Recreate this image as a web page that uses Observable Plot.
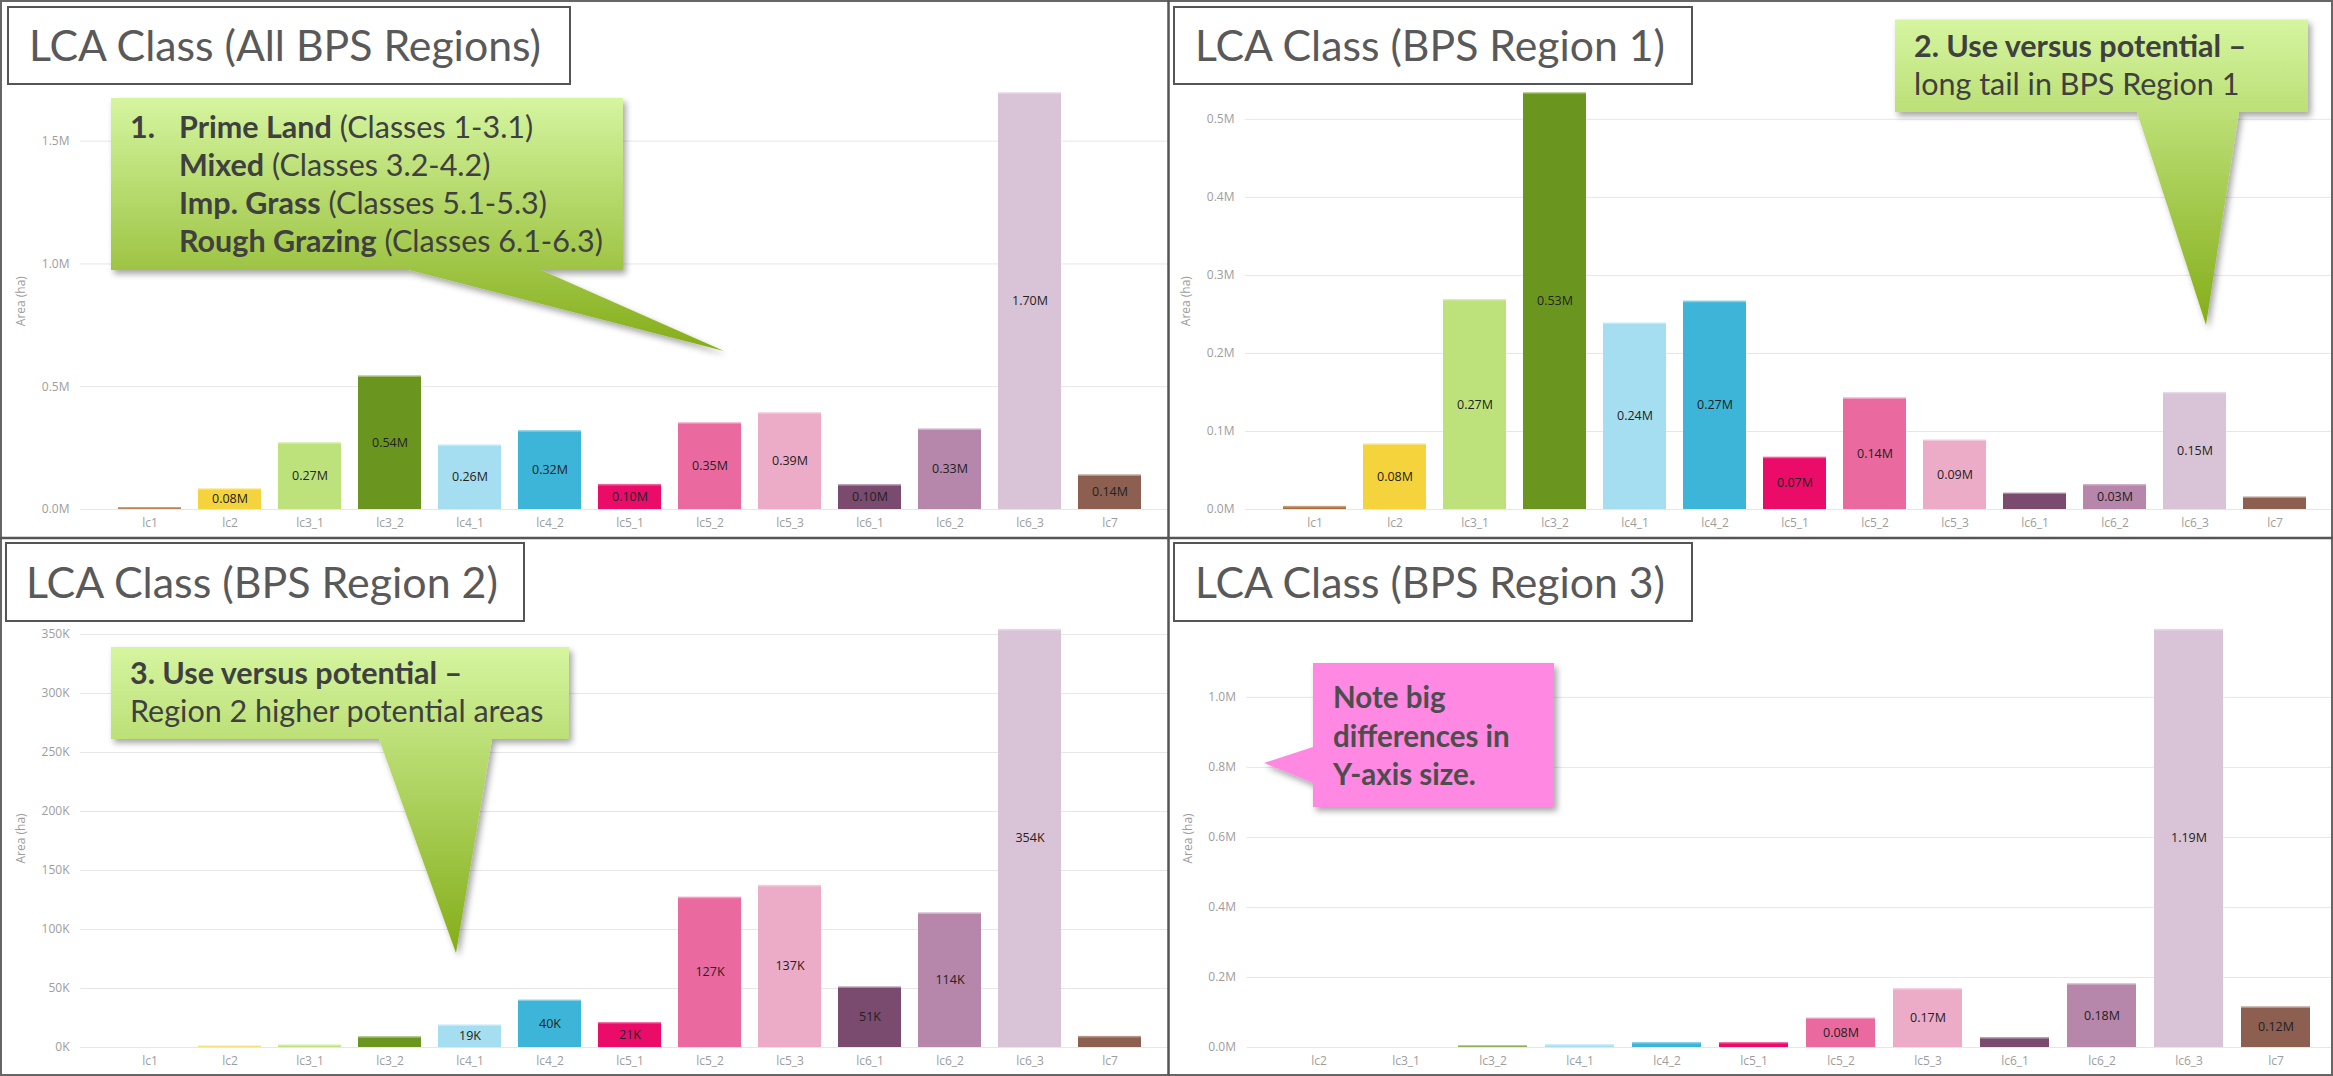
<!DOCTYPE html>
<html>
<head>
<meta charset="utf-8">
<script src="https://cdn.jsdelivr.net/npm/d3@7"></script>
<script src="https://cdn.jsdelivr.net/npm/@observablehq/plot@0.6"></script>
<style>
  html, body { margin: 0; padding: 0; background: #fff; }
  #root { position: relative; width: 2333px; height: 1076px; overflow: hidden; background: #fff; }
  .panel { position: absolute; }
  #overlay { position: absolute; left: 0; top: 0; }
</style>
</head>
<body>
<div id="root"></div>
<script>
// ---------- data ----------
const lcaClasses = ["lc1","lc2","lc3_1","lc3_2","lc4_1","lc4_2","lc5_1","lc5_2","lc5_3","lc6_1","lc6_2","lc6_3","lc7"];
const classColors = ["#a86a36","#f5d33c","#bee27b","#6a961f","#a5def0","#3cb5d9","#eb0c6a","#ea6aa0","#ecabc7","#7a4a6f","#b686ab","#d9c3d6","#8c5f50"];

const classesAllRegions = ["lc1","lc2","lc3_1","lc3_2","lc4_1","lc4_2","lc5_1","lc5_2","lc5_3","lc6_1","lc6_2","lc6_3","lc7"];
const areaAllRegions = [8000, 84000, 272000, 544000, 263000, 321000, 102000, 353000, 394000, 101000, 328000, 1697000, 141000];

const classesRegion1 = ["lc1","lc2","lc3_1","lc3_2","lc4_1","lc4_2","lc5_1","lc5_2","lc5_3","lc6_1","lc6_2","lc6_3","lc7"];
const areaRegion1 = [4000, 84000, 269000, 534000, 239000, 267000, 67000, 143000, 89000, 21000, 32000, 150000, 16000];

const classesRegion2 = ["lc1","lc2","lc3_1","lc3_2","lc4_1","lc4_2","lc5_1","lc5_2","lc5_3","lc6_1","lc6_2","lc6_3","lc7"];
const areaRegion2 = [0, 1200, 2100, 9100, 19100, 40200, 21100, 127400, 137400, 51300, 114100, 354400, 9400];

const classesRegion3 = ["lc2","lc3_1","lc3_2","lc4_1","lc4_2","lc5_1","lc5_2","lc5_3","lc6_1","lc6_2","lc6_3","lc7"];
const areaRegion3 = [0, 0, 5000, 8000, 14000, 14000, 84000, 168000, 28000, 182000, 1194000, 116000];

const ticksAllRegions = [0, 500000, 1000000, 1500000];
const tickLabelsAllRegions = ["0.0M","0.5M","1.0M","1.5M"];
const ticksRegion1 = [0, 100000, 200000, 300000, 400000, 500000];
const tickLabelsRegion1 = ["0.0M","0.1M","0.2M","0.3M","0.4M","0.5M"];
const ticksRegion2 = [0, 50000, 100000, 150000, 200000, 250000, 300000, 350000];
const tickLabelsRegion2 = ["0K","50K","100K","150K","200K","250K","300K","350K"];
const ticksRegion3 = [0, 200000, 400000, 600000, 800000, 1000000];
const tickLabelsRegion3 = ["0.0M","0.2M","0.4M","0.6M","0.8M","1.0M"];

const titles = ["LCA Class (All BPS Regions)", "LCA Class (BPS Region 1)", "LCA Class (BPS Region 2)", "LCA Class (BPS Region 3)"];
const axisTitle = "Area (ha)";

const fmtM = v => (v / 1e6).toFixed(2) + "M";
const fmtK = v => Math.round(v / 1000) + "K";

// ---------- panels ----------
const panels = [
  {classes: classesAllRegions, areas: areaAllRegions, ticks: ticksAllRegions, tickLabels: tickLabelsAllRegions, format: fmtM,
   left: 0, top: 0, width: 1168, height: 538, marginTop: 92.3, marginBottom: 29, marginLeft: 80, insetLeft: 24.6, insetRight: 12.6},
  {classes: classesRegion1, areas: areaRegion1, ticks: ticksRegion1, tickLabels: tickLabelsRegion1, format: fmtM,
   left: 1165, top: 0, width: 1168, height: 538, marginTop: 92.3, marginBottom: 29, marginLeft: 80, insetLeft: 24.6, insetRight: 12.6},
  {classes: classesRegion2, areas: areaRegion2, ticks: ticksRegion2, tickLabels: tickLabelsRegion2, format: fmtK,
   left: 0, top: 538, width: 1168, height: 538, marginTop: 90.9, marginBottom: 29, marginLeft: 80, insetLeft: 24.6, insetRight: 12.6},
  {classes: classesRegion3, areas: areaRegion3, ticks: ticksRegion3, tickLabels: tickLabelsRegion3, format: fmtM,
   left: 1165, top: 538, width: 1168, height: 538, marginTop: 90.9, marginBottom: 29, marginLeft: 81.5, insetLeft: 27.7, insetRight: 14.4}
];

const root = document.getElementById("root");

function drawPanel(p) {
  const data = p.classes.map((c, i) => ({cls: c, area: p.areas[i]}));
  const maxArea = d3.max(p.areas);
  const plotH = p.height - p.marginTop - p.marginBottom;
  const labelled = data.filter(d => d.area / maxArea * plotH >= 18);
  const chart = Plot.plot({
    width: p.width,
    height: p.height,
    marginTop: p.marginTop,
    marginBottom: p.marginBottom,
    marginLeft: p.marginLeft,
    marginRight: 0,
    style: {fontFamily: "'Open Sans', sans-serif", fontSize: "12px", color: "#9d9d9d", background: "transparent", overflow: "visible"},
    x: {domain: p.classes, paddingInner: 0.21, paddingOuter: 0.105, insetLeft: p.insetLeft, insetRight: p.insetRight, label: null},
    y: {domain: [0, maxArea], nice: false, label: null},
    color: {domain: lcaClasses, range: classColors},
    marks: [
      Plot.gridY(p.ticks, {stroke: "#e6e6e6", strokeOpacity: 1, strokeWidth: 1}),
      Plot.barY(data, {x: "cls", y: "area", fill: "cls"}),
      Plot.tickY(data.filter(d => d.area > 0), {x: "cls", y: "area", stroke: "#ffffff", strokeOpacity: 0.35, strokeWidth: 2}),
      Plot.text(labelled, {x: "cls", y: d => d.area / 2, text: d => p.format(d.area), fill: "#222222", fontSize: 12.5}),
      Plot.axisY(p.ticks, {tickSize: 0, tickPadding: 11, tickFormat: d => p.tickLabels[p.ticks.indexOf(d)],
        label: axisTitle, labelAnchor: "center", labelOffset: 64, labelArrow: "none"}),
      Plot.axisX({tickSize: 0, tickPadding: 9, label: null})
    ]
  });
  const div = document.createElement("div");
  div.className = "panel";
  div.style.left = p.left + "px";
  div.style.top = p.top + "px";
  div.appendChild(chart);
  root.appendChild(div);
}
panels.forEach(drawPanel);

// ---------- overlay: frames, titles, callouts ----------
const svg = d3.select(root).append("svg")
  .attr("id", "overlay").attr("width", 2333).attr("height", 1076);

const defs = svg.append("defs");
const grad = defs.append("linearGradient").attr("id", "greenGrad")
  .attr("x1", 0).attr("y1", 0).attr("x2", 0).attr("y2", 1);
grad.append("stop").attr("offset", "0%").attr("stop-color", "#d5f5a0");
grad.append("stop").attr("offset", "100%").attr("stop-color", "#84ad18");
const shadow = defs.append("filter").attr("id", "shadow")
  .attr("x", "-10%").attr("y", "-10%").attr("width", "130%").attr("height", "130%");
shadow.append("feDropShadow").attr("dx", 3).attr("dy", 4).attr("stdDeviation", 3)
  .attr("flood-color", "#000").attr("flood-opacity", 0.35);

// outer border and dividers
svg.append("rect").attr("x", 1).attr("y", 1).attr("width", 2331).attr("height", 1074)
  .attr("fill", "none").attr("stroke", "#666").attr("stroke-width", 2);
svg.append("line").attr("x1", 1168.5).attr("x2", 1168.5).attr("y1", 0).attr("y2", 1076)
  .attr("stroke", "#555").attr("stroke-width", 2.5);
svg.append("line").attr("x1", 0).attr("x2", 2333).attr("y1", 538).attr("y2", 538)
  .attr("stroke", "#555").attr("stroke-width", 2.5);

// title boxes
const titleBoxes = [
  {x: 8, y: 7, w: 562, h: 77, tx: 29, ty: 61, tw: 512},
  {x: 1174, y: 7, w: 518, h: 77, tx: 1195, ty: 61, tw: 470},
  {x: 6, y: 543, w: 518, h: 78, tx: 26, ty: 597.5, tw: 472},
  {x: 1174, y: 543, w: 518, h: 78, tx: 1195, ty: 597.5, tw: 470}
];
titleBoxes.forEach((b, i) => {
  svg.append("rect").attr("x", b.x).attr("y", b.y).attr("width", b.w).attr("height", b.h)
    .attr("fill", "#fff").attr("stroke", "#555").attr("stroke-width", 2);
  svg.append("text").attr("x", b.tx).attr("y", b.ty)
    .attr("font-family", "Lato, 'Open Sans', sans-serif").attr("font-size", 42).attr("fill", "#595959")
    .attr("textLength", b.tw).attr("lengthAdjust", "spacingAndGlyphs")
    .text(titles[i]);
});

// callouts
const calloutFont = "Lato, 'Open Sans', sans-serif";
const cfs = 30.5;
svg.append("path").attr("d", "M111,98 H623 V270 H541 L724,351 L409,270 H111 Z")
  .attr("fill", "url(#greenGrad)").attr("filter", "url(#shadow)");
svg.append("path").attr("d", "M1895,19.6 H2308 V112 H2239 L2206,325 L2137,112 H1895 Z")
  .attr("fill", "url(#greenGrad)").attr("filter", "url(#shadow)");
svg.append("path").attr("d", "M111,647 H569 V739 H492 L456,953 L379,739 H111 Z")
  .attr("fill", "url(#greenGrad)").attr("filter", "url(#shadow)");
svg.append("path").attr("d", "M1313,663 H1554 V807 H1313 V783 L1264,763 L1313,747 Z")
  .attr("fill", "#fe88e2").attr("filter", "url(#shadow)");

const note1 = [
  ["Prime Land", " (Classes 1-3.1)"],
  ["Mixed", " (Classes 3.2-4.2)"],
  ["Imp. Grass", " (Classes 5.1-5.3)"],
  ["Rough Grazing", " (Classes 6.1-6.3)"]
];
svg.append("text").attr("x", 130).attr("y", 138).attr("font-family", calloutFont)
  .attr("font-size", cfs).attr("font-weight", 700).attr("fill", "#404040").text("1.");
note1.forEach((ln, i) => {
  const t = svg.append("text").attr("x", 179).attr("y", 138 + i * 38)
    .attr("font-family", calloutFont).attr("font-size", cfs).attr("fill", "#404040");
  t.append("tspan").attr("font-weight", 700).text(ln[0]);
  t.append("tspan").attr("font-weight", 400).text(ln[1]);
});

function twoLine(x, y, bold, normal) {
  svg.append("text").attr("x", x).attr("y", y).attr("font-family", calloutFont)
    .attr("font-size", cfs).attr("font-weight", 700).attr("fill", "#404040").text(bold);
  svg.append("text").attr("x", x).attr("y", y + 38).attr("font-family", calloutFont)
    .attr("font-size", cfs).attr("font-weight", 400).attr("fill", "#404040").text(normal);
}
twoLine(1914, 57, "2. Use versus potential \u2013", "long tail in BPS Region 1");
twoLine(130, 684, "3. Use versus potential \u2013", "Region 2 higher potential areas");

["Note big", "differences in", "Y-axis size."].forEach((s, i) => {
  svg.append("text").attr("x", 1333).attr("y", 708 + i * 38.5).attr("font-family", calloutFont)
    .attr("font-size", 29.5).attr("font-weight", 700).attr("fill", "#4d4d4d").text(s);
});
</script>
</body>
</html>
